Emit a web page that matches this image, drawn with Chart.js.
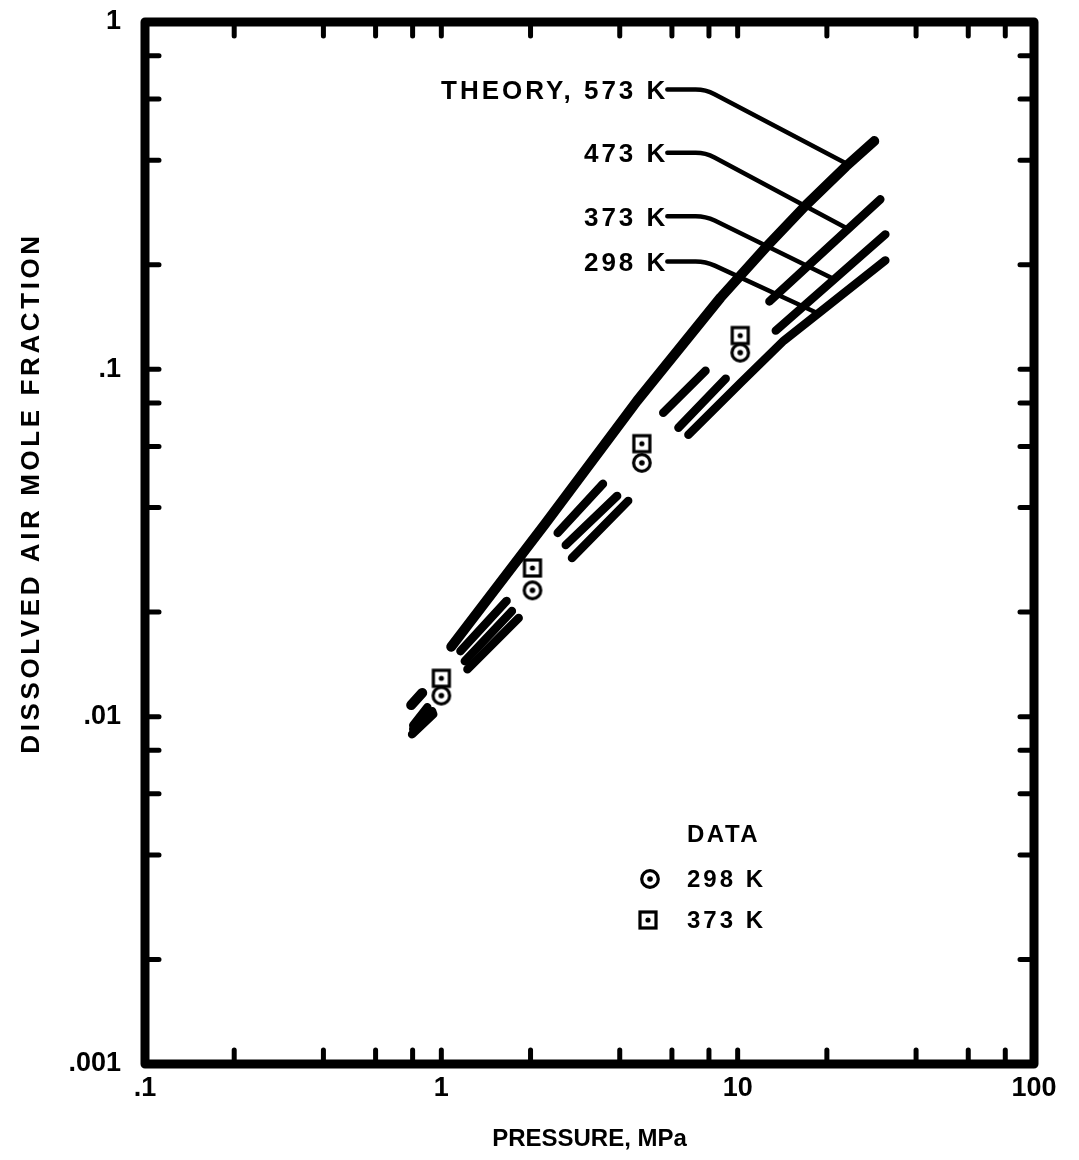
<!DOCTYPE html>
<html lang="en">
<head>
    <meta charset="UTF-8">
    <title>Dissolved Air Mole Fraction vs Pressure</title>
    <style>
        html, body { margin: 0; padding: 0; background: #fff; }
        #solubility { display: block; }
    </style>
    <script src="https://cdn.jsdelivr.net/npm/chart.js@4.4.0/dist/chart.umd.min.js"></script>
</head>
<body>
    <canvas id="solubility" width="1079" height="1160"></canvas>
    <script>
        // theory curves, pressure in MPa vs mole fraction; null marks the gap between dashes
        const p573 = [0.791, 0.862, null, 1.08, 2.24, 4.58, 8.76, 12.6, 17.0, 23.2, 28.9];
        const x573 = [0.0108, 0.0117, null, 0.0159, 0.0359, 0.0812, 0.161, 0.227, 0.297, 0.384, 0.454];
        const p473 = [0.804, 0.897, null, 1.16, 1.66, null, 2.47, 3.51, null, 5.61, 7.79, null, 12.8, 30.3];
        const x473 = [0.00944, 0.01064, null, 0.01544, 0.02153, null, 0.0338, 0.0468, null, 0.0750, 0.0991, null, 0.1568, 0.3087];
        const p373 = [0.804, 0.932, null, 1.20, 1.73, null, 2.63, 3.92, null, 6.31, 9.11, null, 13.45, 31.5];
        const x373 = [0.0092, 0.01036, null, 0.01445, 0.02014, null, 0.0312, 0.0432, null, 0.0679, 0.0940, null, 0.1293, 0.2446];
        const p298 = [0.797, 0.939, null, 1.225, 1.824, null, 2.76, 4.27, null, 6.82, 10.24, 14.32, 31.5];
        const x298 = [0.0089, 0.01016, null, 0.0137, 0.01922, null, 0.02863, 0.04181, null, 0.0648, 0.0915, 0.1210, 0.2059];

        // measured points
        const dataP = [1.0, 2.03, 4.75, 10.2];
        const data298 = [0.0115, 0.0231, 0.0538, 0.1117];
        const data373 = [0.0129, 0.0268, 0.0611, 0.1251];

        // axis ticks
        const xTicks = [0.1, 1, 10, 100];
        const xTickText = ['.1', '1', '10', '100'];
        const yTicks = [0.001, 0.01, 0.1, 1];
        const yTickText = ['.001', '.01', '.1', '1'];
        const xMinor = [0.2, 0.4, 0.6, 0.8, 1, 2, 4, 6, 8, 10, 20, 40, 60, 80];
        const yMinor = [0.002, 0.004, 0.006, 0.008, 0.01, 0.02, 0.04, 0.06, 0.08, 0.1, 0.2, 0.4, 0.6, 0.8];

        // curve labels and where their leaders meet the curves
        const theoryLabels = ['THEORY, 573 K', '473 K', '373 K', '298 K'];
        const labelFrac = [0.639, 0.420, 0.276, 0.2045];
        const leaderP = [23.6, 23.6, 21.2, 18.7];
        const labelP = 5.7, kneeP = 7.8;

        const curvesP = [p573, p473, p373, p298];
        const curvesX = [x573, x473, x373, x298];

        const FONT = '"Liberation Sans", Arial, Helvetica, sans-serif';

        function toPoints(ps, xs) {
            return ps.map((p, i) => p === null ? {x: ps[i - 1], y: null} : {x: p, y: xs[i]});
        }

        // log-log interpolation along a curve
        function fracAt(ps, xs, p) {
            for (let i = 0; i < ps.length - 1; i++) {
                if (ps[i] === null || ps[i + 1] === null) continue;
                if (p >= ps[i] && p <= ps[i + 1]) {
                    const t = Math.log(p / ps[i]) / Math.log(ps[i + 1] / ps[i]);
                    return xs[i] * Math.pow(xs[i + 1] / xs[i], t);
                }
            }
            return null;
        }

        function makeCircle() {
            const c = document.createElement('canvas');
            c.width = c.height = 24;
            const g = c.getContext('2d');
            g.lineWidth = 3.2;
            g.beginPath(); g.arc(12, 12, 8.3, 0, 2 * Math.PI); g.stroke();
            g.beginPath(); g.arc(12, 12, 2.8, 0, 2 * Math.PI); g.fill();
            return c;
        }

        function makeSquare() {
            const c = document.createElement('canvas');
            c.width = c.height = 24;
            const g = c.getContext('2d');
            g.lineWidth = 3.2;
            g.strokeRect(4, 4, 16, 16);
            g.beginPath(); g.arc(12, 12, 2.6, 0, 2 * Math.PI); g.fill();
            return c;
        }

        const circleMark = makeCircle();
        const squareMark = makeSquare();

        const frameAndTicks = {
            id: 'frameAndTicks',
            afterDatasetsDraw(chart) {
                const {ctx, chartArea: a, scales: {x, y}} = chart;
                ctx.save();
                ctx.strokeStyle = '#000';
                ctx.lineCap = 'round';
                ctx.lineWidth = 5;
                const len = 14;
                ctx.beginPath();
                xMinor.forEach(v => {
                    const px = x.getPixelForValue(v);
                    ctx.moveTo(px, a.bottom); ctx.lineTo(px, a.bottom - len);
                    ctx.moveTo(px, a.top); ctx.lineTo(px, a.top + len);
                });
                yMinor.forEach(v => {
                    const py = y.getPixelForValue(v);
                    ctx.moveTo(a.left, py); ctx.lineTo(a.left + len, py);
                    ctx.moveTo(a.right, py); ctx.lineTo(a.right - len, py);
                });
                ctx.stroke();
                ctx.lineWidth = 9;
                ctx.lineJoin = 'round';
                ctx.strokeRect(a.left, a.top, a.right - a.left, a.bottom - a.top);
                ctx.restore();
            }
        };

        const theoryNotes = {
            id: 'theoryNotes',
            afterDatasetsDraw(chart) {
                const {ctx, scales: {x, y}} = chart;
                ctx.save();
                ctx.fillStyle = '#000';
                ctx.strokeStyle = '#000';
                ctx.font = 'bold 26px ' + FONT;
                ctx.letterSpacing = '3px';
                ctx.textAlign = 'right';
                ctx.textBaseline = 'alphabetic';
                ctx.lineWidth = 4.5;
                ctx.lineCap = 'round';
                ctx.lineJoin = 'round';
                const tx = x.getPixelForValue(labelP);
                const kx = x.getPixelForValue(kneeP);
                theoryLabels.forEach((t, i) => {
                    const ty = y.getPixelForValue(labelFrac[i]);
                    ctx.fillText(t, tx + 3, ty + 9.5);
                    const ex = x.getPixelForValue(leaderP[i]);
                    const ey = y.getPixelForValue(fracAt(curvesP[i], curvesX[i], leaderP[i]));
                    const d = Math.hypot(ex - kx, ey - ty);
                    const ux = (ex - kx) / d, uy = (ey - ty) / d;
                    ctx.beginPath();
                    ctx.moveTo(tx + 2, ty);
                    ctx.lineTo(kx - 10, ty);
                    ctx.quadraticCurveTo(kx, ty, kx + 10 * ux, ty + 10 * uy);
                    ctx.lineTo(ex, ey);
                    ctx.stroke();
                });
                ctx.restore();
            }
        };

        const dataLegend = {
            id: 'dataLegend',
            afterDatasetsDraw(chart) {
                const {ctx} = chart;
                ctx.save();
                ctx.fillStyle = '#000';
                ctx.font = 'bold 24px ' + FONT;
                ctx.letterSpacing = '2.5px';
                ctx.textAlign = 'left';
                ctx.textBaseline = 'alphabetic';
                ctx.fillText('DATA', 687, 842);
                ctx.letterSpacing = '3px';
                ctx.drawImage(circleMark, 650 - 12, 879 - 12);
                ctx.fillText('298 K', 687, 887);
                ctx.drawImage(squareMark, 648 - 12, 920 - 12);
                ctx.fillText('373 K', 687, 928);
                ctx.restore();
            }
        };

        const yTitle = {
            id: 'yTitle',
            afterDraw(chart) {
                const {ctx} = chart;
                ctx.save();
                ctx.translate(39, 493);
                ctx.rotate(-Math.PI / 2);
                ctx.fillStyle = '#000';
                ctx.font = 'bold 26px ' + FONT;
                ctx.letterSpacing = '3.6px';
                ctx.textAlign = 'center';
                ctx.textBaseline = 'alphabetic';
                ctx.fillText('DISSOLVED AIR MOLE FRACTION', 0, 0);
                ctx.restore();
            }
        };

        const curveWidth = [10, 8.5, 8.5, 8.5];

        const datasets = curvesP.map((ps, i) => ({
            type: 'line',
            data: toPoints(ps, curvesX[i]),
            borderColor: '#000',
            borderWidth: curveWidth[i],
            borderCapStyle: 'round',
            borderJoinStyle: 'round',
            pointRadius: 0,
            spanGaps: false,
            tension: 0
        }));

        datasets.push({
            type: 'scatter',
            data: dataP.map((p, i) => ({x: p, y: data298[i]})),
            pointStyle: circleMark
        });
        datasets.push({
            type: 'scatter',
            data: dataP.map((p, i) => ({x: p, y: data373[i]})),
            pointStyle: squareMark
        });

        new Chart(document.getElementById('solubility').getContext('2d'), {
            data: {datasets: datasets},
            options: {
                responsive: false,
                animation: false,
                layout: {padding: {top: 22, right: 45, left: 0, bottom: 0}},
                plugins: {legend: {display: false}, tooltip: {enabled: false}},
                scales: {
                    x: {
                        type: 'logarithmic',
                        min: 0.1,
                        max: 100,
                        afterBuildTicks: s => { s.ticks = xTicks.map(v => ({value: v})); },
                        afterFit: s => { s.height = 96; },
                        grid: {display: false, drawTicks: false},
                        border: {display: false},
                        ticks: {
                            callback: (v, i) => xTickText[i],
                            color: '#000',
                            font: {family: FONT, size: 27, weight: 'bold'},
                            padding: 8,
                            maxRotation: 0,
                            autoSkip: false
                        },
                        title: {
                            display: true,
                            text: 'PRESSURE, MPa',
                            color: '#000',
                            font: {family: FONT, size: 24, weight: 'bold'},
                            padding: {top: 0, bottom: 6}
                        }
                    },
                    y: {
                        type: 'logarithmic',
                        min: 0.001,
                        max: 1,
                        afterBuildTicks: s => { s.ticks = yTicks.map(v => ({value: v})); },
                        // fixed axis width; the tick padding should not push the plot area down
                        afterFit: s => { s.width = 145; s.paddingTop = 0; s.paddingBottom = 0; },
                        grid: {display: false, drawTicks: false},
                        border: {display: false},
                        ticks: {
                            callback: (v, i) => yTickText[i],
                            color: '#000',
                            font: {family: FONT, size: 27, weight: 'bold'},
                            padding: 24,
                            autoSkip: false
                        }
                    }
                }
            },
            plugins: [frameAndTicks, theoryNotes, dataLegend, yTitle]
        });
    </script>
</body>
</html>
